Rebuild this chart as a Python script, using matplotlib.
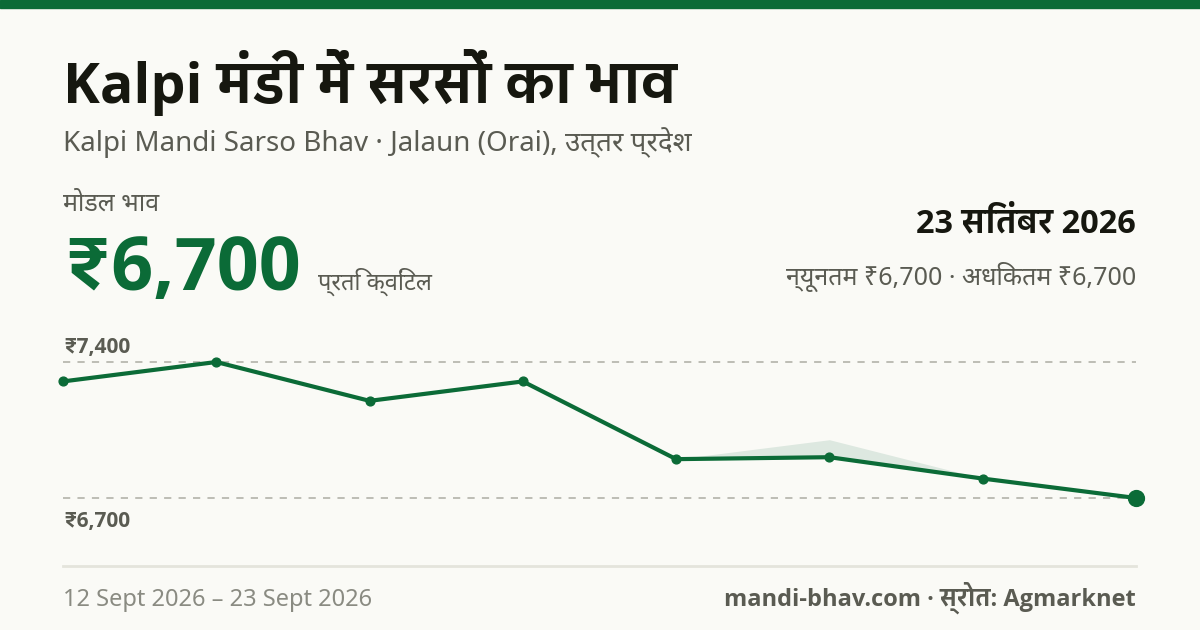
import matplotlib
matplotlib.use('Agg')
import matplotlib.pyplot as plt
from matplotlib.patches import Rectangle
from matplotlib.lines import Line2D

# data
dates = ['12 Sept', '13 Sept', '15 Sept', '16 Sept', '18 Sept', '19 Sept', '22 Sept', '23 Sept']
modal = [7300, 7400, 7200, 7300, 6900, 6910, 6800, 6700]
low = [7300, 7400, 7200, 7300, 6900, 6910, 6800, 6700]
high = [7300, 7400, 7200, 7300, 6900, 7000, 6800, 6700]
grid_vals = [7400, 6700]
grid_labels = ['₹7,400', '₹6,700']

GREEN = '#0b6b37'
BG = '#fafaf6'
GREY = '#5a5b52'
REG = ['Noto Sans', 'DejaVu Sans']
# Noto Sans here is a variable font, so bold text needs static bold files
BOLD = ['Open Sans', 'IBM Plex Sans Devanagari', 'DejaVu Sans']
plt.rcParams['font.family'] = REG

W, H = 1200, 630
fig = plt.figure(figsize=(12, 6.3), dpi=100, facecolor=BG)


def px(x, y):
    return x / W, 1 - y / H


def txt(x, y, s, bold=False, **kw):
    if bold:
        kw.update(family=BOLD, fontweight='bold')
    fig.text(*px(x, y), s, va='baseline', **kw)


# top bar
fig.patches.append(Rectangle(px(0, 8), 1, 8 / H, transform=fig.transFigure,
                             color=GREEN, zorder=5))

txt(63, 103, 'Kalpi मंडी में सरसों का भाव', bold=True, fontsize=40, color='#16170f')
txt(63, 151, 'Kalpi Mandi Sarso Bhav · Jalaun (Orai), उत्तर प्रदेश', fontsize=20,
    color=GREY)
txt(63, 211, 'मोडल भाव', fontsize=18, color=GREY)
txt(63, 290, '₹6,700', bold=True, fontsize=53, color=GREEN)
txt(318, 290, 'प्रति क्विंटल', fontsize=17, color=GREY)

txt(1136, 232, '23 सितंबर 2026', bold=True, fontsize=23.5, color='#16170f', ha='right')
txt(1136, 285, 'न्यूनतम ₹6,700 · अधिकतम ₹6,700', fontsize=18, color=GREY, ha='right')

# chart area
ax = fig.add_axes([63 / W, 1 - 498 / H, (1136 - 63) / W, (498 - 362) / H])
ax.set_facecolor('none')
xs = list(range(len(modal)))
ax.set_xlim(0, len(modal) - 1)
ax.set_ylim(min(grid_vals), max(grid_vals))
ax.axis('off')

for v in grid_vals:
    ax.axhline(v, color='#b8b8b0', lw=1.3, ls=(0, (4, 4)), zorder=1, clip_on=False)

ax.fill_between(xs, low, high, color='#dde8e0', lw=0, zorder=2)
ax.plot(xs, modal, color=GREEN, lw=3, zorder=3, clip_on=False,
        solid_joinstyle='round', solid_capstyle='round')
ax.scatter(xs[:-1], modal[:-1], s=40, color=GREEN, zorder=4, clip_on=False)
ax.scatter(xs[-1:], modal[-1:], s=130, color=GREEN, zorder=4, clip_on=False)

txt(63, 353, grid_labels[0], bold=True, fontsize=15, color=GREY)
txt(63, 527, grid_labels[1], bold=True, fontsize=15, color=GREY)

# footer
fig.lines.append(Line2D([63 / W, 1136 / W], [1 - 566 / H] * 2, transform=fig.transFigure,
                        color='#e4e4dc', lw=2))
txt(63, 606, '12 Sept 2026 – 23 Sept 2026', fontsize=17, color='#8a8b82')
txt(1136, 606, 'mandi-bhav.com · स्रोत: Agmarknet', bold=True, fontsize=17,
    color=GREY, ha='right')

fig.savefig('out.png', dpi=100, facecolor=BG)
